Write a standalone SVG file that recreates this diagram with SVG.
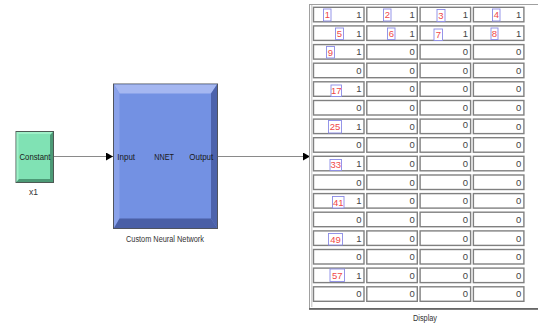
<svg xmlns="http://www.w3.org/2000/svg" width="538" height="324" viewBox="0 0 538 324">
<style>
text{font-family:"Liberation Sans",Arial,sans-serif;}
.lbl{font-size:9.5px;fill:#1a1a1a;}
.cap{font-size:8.5px;fill:#333;}
.cell{fill:#fff;stroke:#808080;stroke-width:1.4;}
.v{font-size:9.5px;fill:#444;text-anchor:end;}
.ib{fill:#fff;stroke:#8a8ae6;stroke-width:0.9;}
.it{font-size:9.5px;fill:#f04848;text-anchor:middle;}
.conn{stroke:#8a8a8a;stroke-width:1.1;fill:none;}
</style>
<defs>
<marker id="ah" markerUnits="userSpaceOnUse" markerWidth="7" markerHeight="8" refX="7" refY="4" orient="auto">
<path d="M0,0 L7,4 L0,8 Z" fill="#000"/>
</marker>
</defs>
<rect width="538" height="324" fill="#fff"/>
<g id="connectors">
<line class="conn" x1="53.5" y1="156.5" x2="113" y2="156.5" marker-end="url(#ah)"/>
<line class="conn" x1="217.5" y1="156.5" x2="310" y2="156.5" marker-end="url(#ah)"/>
</g>
<g id="constant">
<rect x="16" y="131.5" width="37.5" height="51" fill="#80e2b4" stroke="#4d5a54" stroke-width="1"/>
<path d="M16.5,132 H53 L51,134 H18.5 V180 L16.5,182 Z" fill="#9ff0c8"/>
<path d="M53,132 V182 H16.5 L19,179 H50 V135 Z" fill="#4c9a76"/>
<text class="lbl" x="35" y="159.5" text-anchor="middle" textLength="31" lengthAdjust="spacingAndGlyphs">Constant</text>
<text class="cap" x="33.5" y="194.5" text-anchor="middle">x1</text>
</g>
<g id="nnet">
<rect x="113.5" y="84" width="104" height="144.5" fill="#7391e3" stroke="#50545e" stroke-width="1"/>
<path d="M114,84.5 H217 L211,93.5 H119.5 Z" fill="#a5b7f1"/>
<path d="M114,84.5 L119.5,93.5 V218.5 L114,228 Z" fill="#8aa2ea"/>
<path d="M217,84.5 V228 L211,218.5 V93.5 Z" fill="#4d63ac"/>
<path d="M114,228 L119.5,218.5 H211 L217,228 Z" fill="#4a5fa6"/>
<text class="lbl" x="126.2" y="159.8" text-anchor="middle" textLength="17.7" lengthAdjust="spacingAndGlyphs">Input</text>
<text class="lbl" x="164.2" y="159.8" text-anchor="middle" textLength="19.7" lengthAdjust="spacingAndGlyphs">NNET</text>
<text class="lbl" x="201.3" y="159.8" text-anchor="middle" textLength="24" lengthAdjust="spacingAndGlyphs">Output</text>
<text class="cap" x="165" y="241.5" text-anchor="middle" textLength="78" lengthAdjust="spacingAndGlyphs">Custom Neural Network</text>
</g>
<g id="display">
<rect x="309.5" y="4.5" width="240" height="304" fill="#fff" stroke="#a0a0a0" stroke-width="1"/>
<line x1="311.8" y1="5" x2="311.8" y2="307" stroke="#b0b0b0" stroke-width="0.8"/>
<line x1="309" y1="309" x2="538" y2="309" stroke="#555" stroke-width="1.6"/>
<g id="cells">
<rect class="cell" x="313.5" y="7.3" width="50.5" height="14.5"/><rect class="cell" x="366.8" y="7.3" width="50.5" height="14.5"/><rect class="cell" x="420.1" y="7.3" width="50.5" height="14.5"/><rect class="cell" x="473.4" y="7.3" width="50.5" height="14.5"/>
<rect class="cell" x="313.5" y="25.9" width="50.5" height="14.5"/><rect class="cell" x="366.8" y="25.9" width="50.5" height="14.5"/><rect class="cell" x="420.1" y="25.9" width="50.5" height="14.5"/><rect class="cell" x="473.4" y="25.9" width="50.5" height="14.5"/>
<rect class="cell" x="313.5" y="44.6" width="50.5" height="14.5"/><rect class="cell" x="366.8" y="44.6" width="50.5" height="14.5"/><rect class="cell" x="420.1" y="44.6" width="50.5" height="14.5"/><rect class="cell" x="473.4" y="44.6" width="50.5" height="14.5"/>
<rect class="cell" x="313.5" y="63.2" width="50.5" height="14.5"/><rect class="cell" x="366.8" y="63.2" width="50.5" height="14.5"/><rect class="cell" x="420.1" y="63.2" width="50.5" height="14.5"/><rect class="cell" x="473.4" y="63.2" width="50.5" height="14.5"/>
<rect class="cell" x="313.5" y="81.8" width="50.5" height="14.5"/><rect class="cell" x="366.8" y="81.8" width="50.5" height="14.5"/><rect class="cell" x="420.1" y="81.8" width="50.5" height="14.5"/><rect class="cell" x="473.4" y="81.8" width="50.5" height="14.5"/>
<rect class="cell" x="313.5" y="100.5" width="50.5" height="14.5"/><rect class="cell" x="366.8" y="100.5" width="50.5" height="14.5"/><rect class="cell" x="420.1" y="100.5" width="50.5" height="14.5"/><rect class="cell" x="473.4" y="100.5" width="50.5" height="14.5"/>
<rect class="cell" x="313.5" y="119.1" width="50.5" height="14.5"/><rect class="cell" x="366.8" y="119.1" width="50.5" height="14.5"/><rect class="cell" x="420.1" y="119.1" width="50.5" height="14.5"/><rect class="cell" x="473.4" y="119.1" width="50.5" height="14.5"/>
<rect class="cell" x="313.5" y="137.7" width="50.5" height="14.5"/><rect class="cell" x="366.8" y="137.7" width="50.5" height="14.5"/><rect class="cell" x="420.1" y="137.7" width="50.5" height="14.5"/><rect class="cell" x="473.4" y="137.7" width="50.5" height="14.5"/>
<rect class="cell" x="313.5" y="156.3" width="50.5" height="14.5"/><rect class="cell" x="366.8" y="156.3" width="50.5" height="14.5"/><rect class="cell" x="420.1" y="156.3" width="50.5" height="14.5"/><rect class="cell" x="473.4" y="156.3" width="50.5" height="14.5"/>
<rect class="cell" x="313.5" y="175" width="50.5" height="14.5"/><rect class="cell" x="366.8" y="175" width="50.5" height="14.5"/><rect class="cell" x="420.1" y="175" width="50.5" height="14.5"/><rect class="cell" x="473.4" y="175" width="50.5" height="14.5"/>
<rect class="cell" x="313.5" y="193.6" width="50.5" height="14.5"/><rect class="cell" x="366.8" y="193.6" width="50.5" height="14.5"/><rect class="cell" x="420.1" y="193.6" width="50.5" height="14.5"/><rect class="cell" x="473.4" y="193.6" width="50.5" height="14.5"/>
<rect class="cell" x="313.5" y="212.2" width="50.5" height="14.5"/><rect class="cell" x="366.8" y="212.2" width="50.5" height="14.5"/><rect class="cell" x="420.1" y="212.2" width="50.5" height="14.5"/><rect class="cell" x="473.4" y="212.2" width="50.5" height="14.5"/>
<rect class="cell" x="313.5" y="230.9" width="50.5" height="14.5"/><rect class="cell" x="366.8" y="230.9" width="50.5" height="14.5"/><rect class="cell" x="420.1" y="230.9" width="50.5" height="14.5"/><rect class="cell" x="473.4" y="230.9" width="50.5" height="14.5"/>
<rect class="cell" x="313.5" y="249.5" width="50.5" height="14.5"/><rect class="cell" x="366.8" y="249.5" width="50.5" height="14.5"/><rect class="cell" x="420.1" y="249.5" width="50.5" height="14.5"/><rect class="cell" x="473.4" y="249.5" width="50.5" height="14.5"/>
<rect class="cell" x="313.5" y="268.1" width="50.5" height="14.5"/><rect class="cell" x="366.8" y="268.1" width="50.5" height="14.5"/><rect class="cell" x="420.1" y="268.1" width="50.5" height="14.5"/><rect class="cell" x="473.4" y="268.1" width="50.5" height="14.5"/>
<rect class="cell" x="313.5" y="286.8" width="50.5" height="14.5"/><rect class="cell" x="366.8" y="286.8" width="50.5" height="14.5"/><rect class="cell" x="420.1" y="286.8" width="50.5" height="14.5"/><rect class="cell" x="473.4" y="286.8" width="50.5" height="14.5"/>
</g>
<g id="values">
<text class="v" x="361.5" y="17.9">1</text><text class="v" x="414.8" y="17.9">1</text><text class="v" x="468.1" y="17.9">1</text><text class="v" x="521.4" y="17.9">1</text>
<text class="v" x="361.5" y="36.5">1</text><text class="v" x="414.8" y="36.5">1</text><text class="v" x="468.1" y="36.5">1</text><text class="v" x="521.4" y="36.5">1</text>
<text class="v" x="361.5" y="55.2">1</text><text class="v" x="414.8" y="55.2">0</text><text class="v" x="468.1" y="55.2">0</text><text class="v" x="521.4" y="55.2">0</text>
<text class="v" x="361.5" y="73.8">0</text><text class="v" x="414.8" y="73.8">0</text><text class="v" x="468.1" y="73.8">0</text><text class="v" x="521.4" y="73.8">0</text>
<text class="v" x="361.5" y="92.4">1</text><text class="v" x="414.8" y="92.4">0</text><text class="v" x="468.1" y="92.4">0</text><text class="v" x="521.4" y="92.4">0</text>
<text class="v" x="361.5" y="111.1">0</text><text class="v" x="414.8" y="111.1">0</text><text class="v" x="468.1" y="111.1">0</text><text class="v" x="521.4" y="111.1">0</text>
<text class="v" x="361.5" y="129.7">1</text><text class="v" x="414.8" y="129.7">0</text><text class="v" x="468.1" y="128">0</text><text class="v" x="521.4" y="129.7">0</text>
<text class="v" x="361.5" y="148.3">0</text><text class="v" x="414.8" y="148.3">0</text><text class="v" x="468.1" y="148.3">0</text><text class="v" x="521.4" y="148.3">0</text>
<text class="v" x="361.5" y="166.9">1</text><text class="v" x="414.8" y="166.9">0</text><text class="v" x="468.1" y="166.9">0</text><text class="v" x="521.4" y="166.9">0</text>
<text class="v" x="361.5" y="185.6">0</text><text class="v" x="414.8" y="185.6">0</text><text class="v" x="468.1" y="185.6">0</text><text class="v" x="521.4" y="185.6">0</text>
<text class="v" x="361.5" y="204.2">1</text><text class="v" x="414.8" y="204.2">0</text><text class="v" x="468.1" y="204.2">0</text><text class="v" x="521.4" y="204.2">0</text>
<text class="v" x="361.5" y="222.8">0</text><text class="v" x="414.8" y="222.8">0</text><text class="v" x="468.1" y="222.8">0</text><text class="v" x="521.4" y="222.8">0</text>
<text class="v" x="361.5" y="241.5">1</text><text class="v" x="414.8" y="241.5">0</text><text class="v" x="468.1" y="241.5">0</text><text class="v" x="521.4" y="241.5">0</text>
<text class="v" x="361.5" y="260.1">0</text><text class="v" x="414.8" y="260.1">0</text><text class="v" x="468.1" y="260.1">0</text><text class="v" x="521.4" y="260.1">0</text>
<text class="v" x="361.5" y="278.7">1</text><text class="v" x="414.8" y="278.7">0</text><text class="v" x="468.1" y="278.7">0</text><text class="v" x="521.4" y="278.7">0</text>
<text class="v" x="361.5" y="297.4">0</text><text class="v" x="414.8" y="297.4">0</text><text class="v" x="468.1" y="297.4">0</text><text class="v" x="521.4" y="297.4">0</text>
</g>
<g id="indices">
<rect class="ib" x="323.5" y="9" width="7.5" height="12"/><text class="it" x="327.3" y="18.3">1</text>
<rect class="ib" x="383.5" y="9" width="7.5" height="12"/><text class="it" x="387.3" y="18.3">2</text>
<rect class="ib" x="437" y="9.5" width="8" height="12"/><text class="it" x="441" y="18.8">3</text>
<rect class="ib" x="492.5" y="9" width="7.5" height="12"/><text class="it" x="496.3" y="18.3">4</text>
<rect class="ib" x="335.5" y="28" width="8" height="11.5"/><text class="it" x="339.5" y="37">5</text>
<rect class="ib" x="387.5" y="28" width="7.5" height="11.5"/><text class="it" x="391.3" y="37">6</text>
<rect class="ib" x="434" y="29" width="8.5" height="11.5"/><text class="it" x="438.3" y="38">7</text>
<rect class="ib" x="491" y="28" width="7" height="11.5"/><text class="it" x="494.5" y="37">8</text>
<rect class="ib" x="326.5" y="46.5" width="8" height="11.5"/><text class="it" x="330.5" y="55.5">9</text>
<rect class="ib" x="331" y="85" width="10.5" height="11.5"/><text class="it" x="336.2" y="94">17</text>
<rect class="ib" x="328.5" y="120.5" width="13" height="12.5"/><text class="it" x="335" y="130">25</text>
<rect class="ib" x="330" y="159.5" width="11.5" height="11"/><text class="it" x="335.7" y="168.3">33</text>
<rect class="ib" x="332.5" y="196.5" width="11.5" height="11.5"/><text class="it" x="338.2" y="205.5">41</text>
<rect class="ib" x="328.5" y="233.5" width="14" height="11.5"/><text class="it" x="335.5" y="242.5">49</text>
<rect class="ib" x="330" y="269" width="14.5" height="12.5"/><text class="it" x="337.2" y="278.6">57</text>
</g>
<text class="cap" x="425" y="321" text-anchor="middle" textLength="24" lengthAdjust="spacingAndGlyphs">Display</text>
</g>
</svg>
